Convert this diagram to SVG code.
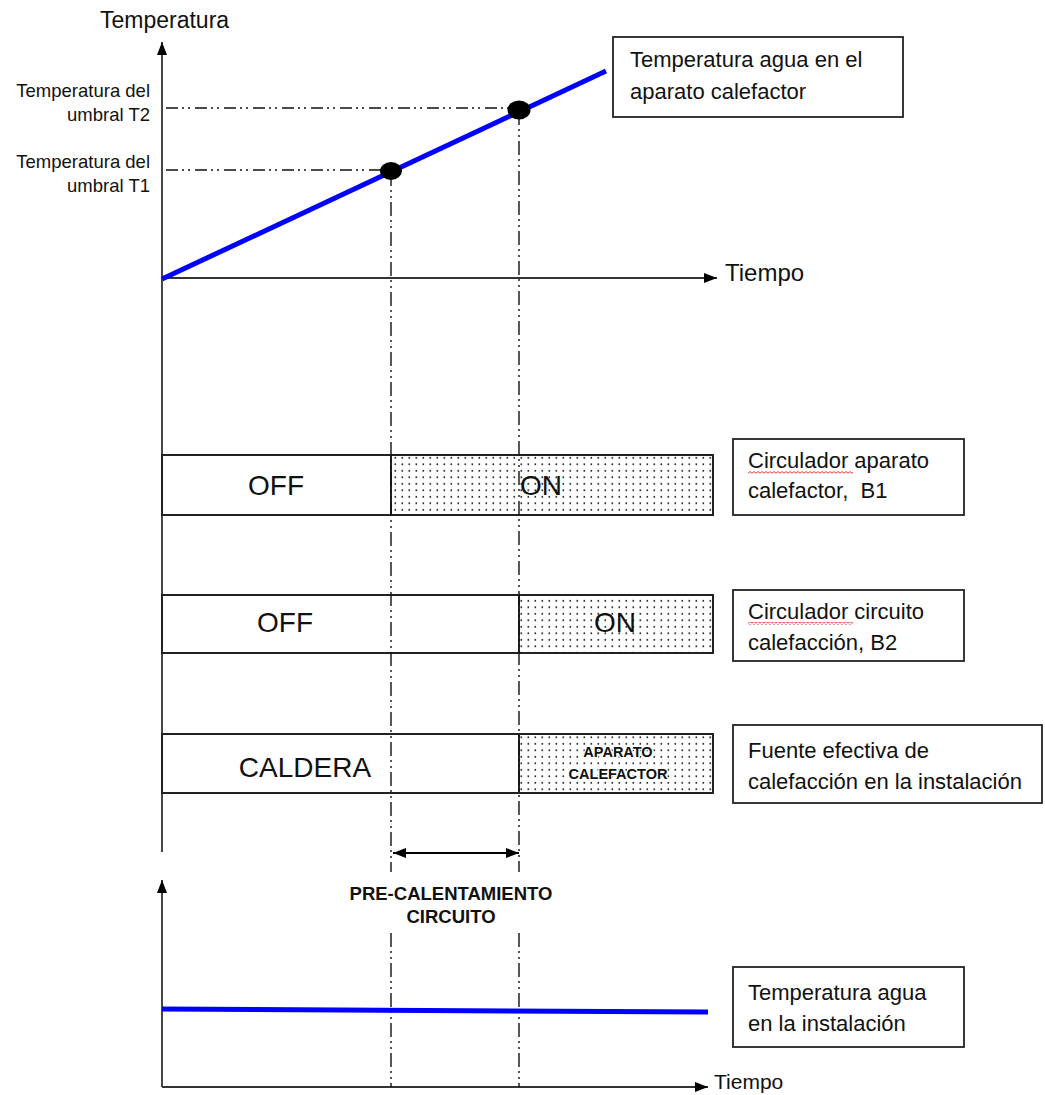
<svg xmlns="http://www.w3.org/2000/svg" width="1045" height="1095" viewBox="0 0 1045 1095">
<style>
  text { font-family: "Liberation Sans", Arial, sans-serif; fill: #111; }
  .axis { stroke: #333; stroke-width: 1.8; fill: none; }
  .dd { stroke: #111; stroke-width: 1.4; fill: none; stroke-dasharray: 12 4 2 4 2 5; }
  .ddv { stroke: #111; stroke-width: 1.4; fill: none; stroke-dasharray: 14 4 2 4 2 4; }
  .blue { stroke: #0000ff; stroke-width: 5; fill: none; }
  .row { fill: #fff; stroke: #222; stroke-width: 2; }
  .dot { fill: url(#dots); stroke: #222; stroke-width: 2; }
  .lbl { fill: #fff; stroke: #222; stroke-width: 1.8; }
  .big { font-size: 28px; text-anchor: middle; }
  .box { font-size: 22px; }
  .thr { font-size: 18.5px; text-anchor: end; }
  .bold { font-weight: bold; text-anchor: middle; }
</style>
<defs>
  <marker id="arr" markerUnits="userSpaceOnUse" markerWidth="14" markerHeight="12" refX="13" refY="5" orient="auto-start-reverse">
    <path d="M0,0 L13,5 L0,10 z" fill="#000"/>
  </marker>
  <pattern id="dots" patternUnits="userSpaceOnUse" width="7" height="6.5">
    <rect x="2.5" y="2" width="1.6" height="1.6" fill="#111"/>
  </pattern>
  <pattern id="wave" patternUnits="userSpaceOnUse" width="4" height="3">
    <path d="M0,2.2 L2,0.6 L4,2.2" stroke="#e02020" stroke-width="0.9" fill="none"/>
  </pattern>
</defs>

<g id="axes">
  <line class="axis" x1="162" y1="852" x2="162" y2="42" marker-end="url(#arr)"/>
  <line class="axis" x1="162" y1="278" x2="717" y2="278" marker-end="url(#arr)"/>
  <line class="axis" x1="162" y1="1087" x2="162" y2="880" marker-end="url(#arr)"/>
  <line class="axis" x1="162" y1="1087" x2="708" y2="1087" marker-end="url(#arr)"/>
  <text x="100" y="28" font-size="23">Temperatura</text>
  <text x="725" y="281" font-size="24">Tiempo</text>
  <text x="714" y="1089" font-size="21">Tiempo</text>
</g>

<g id="thresholds">
  <text class="thr" x="150" y="97">Temperatura del</text>
  <text class="thr" x="150" y="121">umbral T2</text>
  <text class="thr" x="150" y="168">Temperatura del</text>
  <text class="thr" x="150" y="192">umbral T1</text>
</g>

<g id="rows">
  <g id="row1">
    <rect class="row" x="162" y="455" width="551" height="60"/>
    <rect class="dot" x="391" y="455" width="322" height="60"/>
    <text class="big" x="276" y="495">OFF</text>
    <text class="big" x="541" y="495">ON</text>
  </g>
  <g id="row2">
    <rect class="row" x="162" y="595" width="551" height="58"/>
    <rect class="dot" x="519" y="595" width="194" height="58"/>
    <text class="big" x="285" y="632">OFF</text>
    <text class="big" x="615" y="632">ON</text>
  </g>
  <g id="row3">
    <rect class="row" x="162" y="734" width="551" height="59"/>
    <rect class="dot" x="519" y="734" width="194" height="59"/>
    <text class="big" x="305" y="777">CALDERA</text>
    <text class="bold" x="618" y="757" font-size="14.5" stroke="#fff" stroke-width="2.5" paint-order="stroke">APARATO</text>
    <text class="bold" x="618" y="779" font-size="14.5" stroke="#fff" stroke-width="2.5" paint-order="stroke">CALEFACTOR</text>
  </g>
</g>

<g id="connectors">
  <line class="dd" x1="166" y1="108" x2="519" y2="108"/>
  <line class="dd" x1="166" y1="170" x2="391" y2="170"/>
  <line class="ddv" x1="391" y1="172" x2="391" y2="872"/>
  <line class="ddv" x1="391" y1="933" x2="391" y2="1087"/>
  <line class="ddv" x1="519" y1="111" x2="519" y2="872"/>
  <line class="ddv" x1="519" y1="933" x2="519" y2="1087"/>
  <line x1="393" y1="853" x2="519" y2="853" stroke="#000" stroke-width="1.8" marker-start="url(#arr)" marker-end="url(#arr)"/>
</g>

<g id="curves">
  <line class="blue" x1="162" y1="279" x2="606" y2="71"/>
  <ellipse cx="391" cy="171" rx="11" ry="9" fill="#000"/>
  <ellipse cx="519" cy="110" rx="11.5" ry="9.5" fill="#000"/>
  <line class="blue" x1="162" y1="1009" x2="708" y2="1012"/>
</g>

<g id="precalentamiento">
  <text class="bold" x="451" y="900" font-size="18.5">PRE-CALENTAMIENTO</text>
  <text class="bold" x="451" y="923" font-size="18.5">CIRCUITO</text>
</g>

<g id="label-water-heater">
  <rect class="lbl" x="613" y="37" width="290" height="80"/>
  <text class="box" x="630" y="67">Temperatura agua en el</text>
  <text class="box" x="630" y="99">aparato calefactor</text>
</g>

<g id="label-b1">
  <rect class="lbl" x="733" y="439" width="231" height="76"/>
  <rect x="748" y="471" width="105" height="3" fill="url(#wave)"/>
  <text class="box" x="748" y="468">Circulador aparato</text>
  <text class="box" x="748" y="498" style="white-space:pre">calefactor,  B1</text>
</g>

<g id="label-b2">
  <rect class="lbl" x="733" y="590" width="231" height="71"/>
  <rect x="748" y="622" width="105" height="3" fill="url(#wave)"/>
  <text class="box" x="748" y="619">Circulador circuito</text>
  <text class="box" x="748" y="650">calefacción, B2</text>
</g>

<g id="label-source">
  <rect class="lbl" x="733" y="725" width="309" height="78"/>
  <text class="box" x="748" y="758">Fuente efectiva de</text>
  <text class="box" x="748" y="789">calefacción en la instalación</text>
</g>

<g id="label-installation">
  <rect class="lbl" x="733" y="967" width="231" height="80"/>
  <text class="box" x="748" y="1000">Temperatura agua</text>
  <text class="box" x="748" y="1031">en la instalación</text>
</g>
</svg>
